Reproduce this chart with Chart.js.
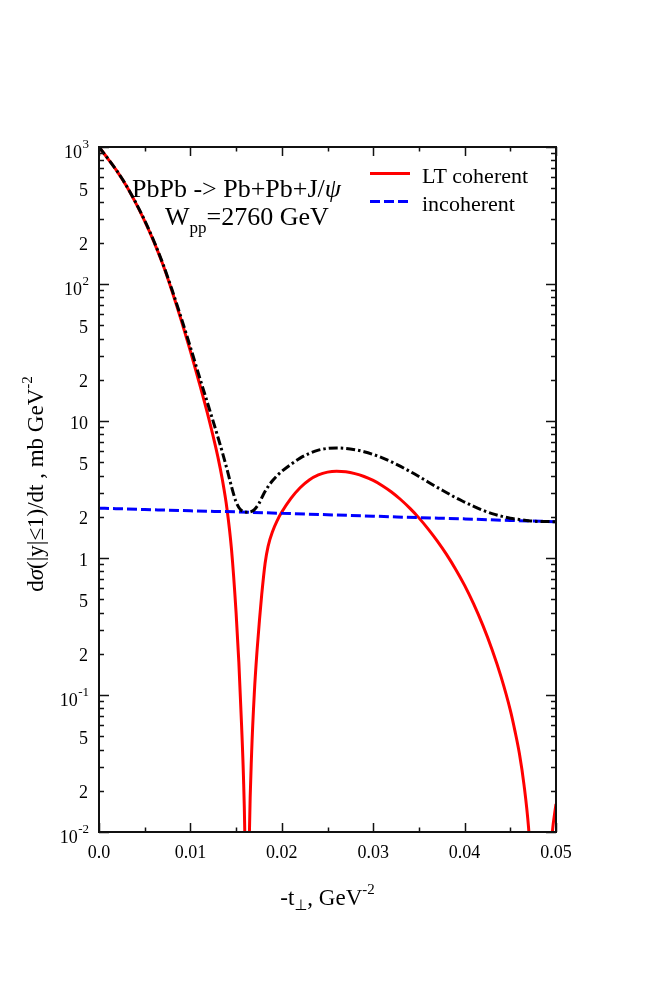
<!DOCTYPE html>
<html>
<head>
<meta charset="utf-8">
<script src="https://cdn.jsdelivr.net/npm/chart.js@4.4.1/dist/chart.umd.min.js"></script>
<style>
html,body{margin:0;padding:0;background:#fff;}
#wrap{width:654px;height:981px;position:relative;}
canvas{display:block;}
</style>
</head>
<body>
<div id="wrap"><canvas id="c" width="654" height="981"></canvas></div>
<script>
// ---- data ----
const coherentT = [0,0.001,0.002,0.003,0.004,0.005,0.006,0.007,0.008,0.009,0.010,0.011,0.012,0.013,0.0135,0.014,0.0145,0.015,0.0153,0.0156,0.0158,0.01595,0.0161,0.0162,0.0163,0.01646,0.0167,0.0170,0.0173,0.01755,0.0178,0.01817,0.0185,0.019,0.0195,0.020,0.021,0.022,0.023,0.024,0.025,0.026,0.027,0.028,0.029,0.030,0.031,0.032,0.033,0.034,0.035,0.036,0.037,0.038,0.039,0.040,0.041,0.042,0.043,0.044,0.045,0.0455,0.046,0.0465,0.047,0.0475,0.048,0.0483,0.0486,0.049,0.0496,0.050];
const coherentY = [1000,817,661,520,393,288,204,138,88.1,54.3,32.4,18.7,10.5,5.5,3.72,2.29,1.15,0.398,0.174,0.060,0.026,0.01,0.00126,0.00001,0.00126,0.01,0.038,0.105,0.214,0.347,0.537,0.912,1.216,1.567,1.875,2.163,2.723,3.258,3.715,4.046,4.236,4.295,4.256,4.130,3.936,3.681,3.373,3.034,2.673,2.312,1.963,1.633,1.334,1.067,0.832,0.631,0.460,0.322,0.215,0.135,0.0776,0.055,0.0372,0.0221,0.0107,0.00316,0.000316,0.00001,0.00054,0.0029,0.01,0.016];

const incoherentT = [0,0.005,0.010,0.015,0.020,0.025,0.030,0.035,0.040,0.045,0.050];
const incoherentY = [2.31,2.26,2.21,2.17,2.12,2.07,2.02,1.97,1.93,1.88,1.84];

const totalT = [0,0.001,0.002,0.003,0.004,0.005,0.006,0.007,0.008,0.009,0.010,0.011,0.012,0.013,0.0135,0.014,0.0145,0.015,0.0155,0.0162,0.0167,0.017,0.0175,0.018,0.0185,0.019,0.0195,0.020,0.021,0.022,0.023,0.024,0.025,0.026,0.027,0.028,0.029,0.030,0.031,0.032,0.033,0.034,0.035,0.036,0.037,0.038,0.039,0.040,0.041,0.042,0.043,0.044,0.045,0.046,0.047,0.048,0.049,0.050];
const totalY = [1000,819,663,522,395,291,206,140,90.3,56.5,34.6,20.9,12.7,7.68,5.90,4.46,3.32,2.57,2.25,2.16,2.19,2.255,2.50,2.92,3.32,3.68,4.0,4.29,4.83,5.36,5.80,6.13,6.31,6.36,6.31,6.17,5.97,5.70,5.38,5.03,4.66,4.29,3.93,3.59,3.28,3.01,2.76,2.56,2.38,2.23,2.11,2.02,1.95,1.91,1.87,1.85,1.845,1.84];

const xMajorTicks = [0,0.01,0.02,0.03,0.04,0.05];
const xTickLabels = ['0.0','0.01','0.02','0.03','0.04','0.05'];
const xMinorTicks = [0.005,0.015,0.025,0.035,0.045];
const yDecadeExps = [-2,-1,0,1,2,3];
const yMinorMults = [2,3,4,5,6,7,8,9];
const yLabeledMults = [2,5];

const legendLabels = ['LT coherent','incoherent'];

// ---- helpers ----
function pts(xs, ys){ return xs.map((x,i)=>({x:x, y:ys[i]})); }
const SERIF = '"Liberation Serif", "DejaVu Serif", serif';
function drawRich(ctx, parts, x, y, align){
  let w = 0;
  parts.forEach(p=>{ ctx.font = p.font; p.w = ctx.measureText(p.t).width; w += p.w; });
  let cx = x;
  if (align === 'right') cx = x - w;
  else if (align === 'center') cx = x - w/2;
  ctx.textAlign = 'left';
  ctx.textBaseline = 'alphabetic';
  parts.forEach(p=>{ ctx.font = p.font; ctx.fillText(p.t, cx, y + (p.dy||0)); cx += p.w; });
  return w;
}

const framePlugin = {
  id: 'frame',
  afterDatasetsDraw(chart){
    const ctx = chart.ctx;
    const a = chart.chartArea;
    const xs = chart.scales.x, ys = chart.scales.y;
    ctx.save();
    ctx.strokeStyle = '#111';
    ctx.fillStyle = '#111';
    // ticks
    ctx.lineWidth = 1.5;
    ctx.beginPath();
    xMajorTicks.forEach(v=>{
      const px = Math.round(xs.getPixelForValue(v))+0.5;
      ctx.moveTo(px, a.bottom); ctx.lineTo(px, a.bottom-9);
      ctx.moveTo(px, a.top); ctx.lineTo(px, a.top+9);
    });
    xMinorTicks.forEach(v=>{
      const px = Math.round(xs.getPixelForValue(v))+0.5;
      ctx.moveTo(px, a.bottom); ctx.lineTo(px, a.bottom-4.5);
      ctx.moveTo(px, a.top); ctx.lineTo(px, a.top+4.5);
    });
    yDecadeExps.forEach(e=>{
      const py = Math.round(ys.getPixelForValue(Math.pow(10,e)))+0.5;
      ctx.moveTo(a.left, py); ctx.lineTo(a.left+10, py);
      ctx.moveTo(a.right, py); ctx.lineTo(a.right-10, py);
      if (e < 3) {
        yMinorMults.forEach(m=>{
          const qy = Math.round(ys.getPixelForValue(m*Math.pow(10,e)))+0.5;
          ctx.moveTo(a.left, qy); ctx.lineTo(a.left+5, qy);
          ctx.moveTo(a.right, qy); ctx.lineTo(a.right-5, qy);
        });
      }
    });
    ctx.stroke();
    // frame
    ctx.lineWidth = 2;
    ctx.strokeRect(a.left, a.top, a.right-a.left, a.bottom-a.top);

    // x tick labels
    ctx.fillStyle = '#000';
    ctx.font = '18px ' + SERIF;
    ctx.textAlign = 'center';
    ctx.textBaseline = 'alphabetic';
    xMajorTicks.forEach((v,i)=>{
      ctx.fillText(xTickLabels[i], xs.getPixelForValue(v), a.bottom + 26);
    });
    // y tick labels
    const rx = a.left - 11;
    yDecadeExps.forEach(e=>{
      const py = ys.getPixelForValue(Math.pow(10,e));
      if (e === 0 || e === 1) {
        ctx.font = '18px ' + SERIF; ctx.textAlign = 'right';
        ctx.fillText(e===0 ? '1' : '10', rx, py + 7.5);
      } else {
        ctx.font = '13px ' + SERIF;
        const sup = String(e);
        const sw = ctx.measureText(sup).width;
        ctx.textAlign = 'right';
        ctx.fillText(sup, rx + 1, py + 1);
        ctx.font = '18px ' + SERIF;
        ctx.fillText('10', rx + 1 - sw - 0.5, py + 11);
      }
      if (e < 3) {
        yLabeledMults.forEach(m=>{
          const qy = ys.getPixelForValue(m*Math.pow(10,e));
          ctx.font = '18px ' + SERIF; ctx.textAlign = 'right';
          ctx.fillText(String(m), rx, qy + 7.5);
        });
      }
    });

    // x axis title
    const f23 = '23px ' + SERIF;
    drawRich(ctx, [
      {t:'-t', font:f23},
      {t:'\u22A5', font:'15px "DejaVu Sans", ' + SERIF, dy:5},
      {t:', GeV', font:f23},
      {t:'-2', font:'15px ' + SERIF, dy:-11}
    ], (a.left+a.right)/2, 905, 'center');

    // y axis title (rotated)
    ctx.save();
    ctx.translate(43, 484);
    ctx.rotate(-Math.PI/2);
    drawRich(ctx, [
      {t:'d', font:f23},
      {t:'\u03C3', font:'italic 23px ' + SERIF},
      {t:'(|y|\u22641)/dt , mb GeV', font:f23},
      {t:'-2', font:'15px ' + SERIF, dy:-11}
    ], 0, 0, 'center');
    ctx.restore();

    // annotation
    const f26 = '26px ' + SERIF;
    drawRich(ctx, [
      {t:'PbPb -> Pb+Pb+J/', font:f26},
      {t:'\u03C8', font:'italic 26px ' + SERIF}
    ], 132, 197, 'left');
    drawRich(ctx, [
      {t:'W', font:f26},
      {t:'pp', font:'17px ' + SERIF, dy:8},
      {t:'=2760 GeV', font:f26}
    ], 165, 225, 'left');

    // legend
    ctx.lineWidth = 3;
    ctx.strokeStyle = '#ff0000';
    ctx.setLineDash([]);
    ctx.beginPath(); ctx.moveTo(370, 173.5); ctx.lineTo(410, 173.5); ctx.stroke();
    ctx.strokeStyle = '#0000ff';
    ctx.setLineDash([10,4]);
    ctx.beginPath(); ctx.moveTo(370, 201.5); ctx.lineTo(410, 201.5); ctx.stroke();
    ctx.setLineDash([]);
    ctx.fillStyle = '#000';
    ctx.font = '22px ' + SERIF; ctx.textAlign = 'left'; ctx.textBaseline = 'alphabetic';
    ctx.fillText(legendLabels[0], 422, 182.5);
    ctx.fillText(legendLabels[1], 422, 210.5);
    ctx.restore();
  }
};

new Chart(document.getElementById('c'), {
  type: 'line',
  data: {
    datasets: [
      { label: 'total', data: pts(totalT, totalY), borderColor: '#000000', borderWidth: 3,
        borderDash: [9,3,2.5,3], pointRadius: 0, cubicInterpolationMode: 'monotone', fill: false, order: 0 },
      { label: legendLabels[1], data: pts(incoherentT, incoherentY), borderColor: '#0000ff', borderWidth: 3,
        borderDash: [10,4], pointRadius: 0, cubicInterpolationMode: 'monotone', fill: false, order: 1 },
      { label: legendLabels[0], data: pts(coherentT, coherentY), borderColor: '#ff0000', borderWidth: 3,
        pointRadius: 0, cubicInterpolationMode: 'monotone', fill: false, order: 2 }
    ]
  },
  options: {
    responsive: false,
    animation: false,
    devicePixelRatio: 1,
    layout: { padding: { left: 99, right: 98, top: 147, bottom: 149 } },
    plugins: { legend: { display: false }, tooltip: { enabled: false } },
    scales: {
      x: { type: 'linear', min: 0, max: 0.05, display: false },
      y: { type: 'logarithmic', min: 0.01, max: 1000, display: false }
    }
  },
  plugins: [framePlugin]
});
</script>
</body>
</html>
